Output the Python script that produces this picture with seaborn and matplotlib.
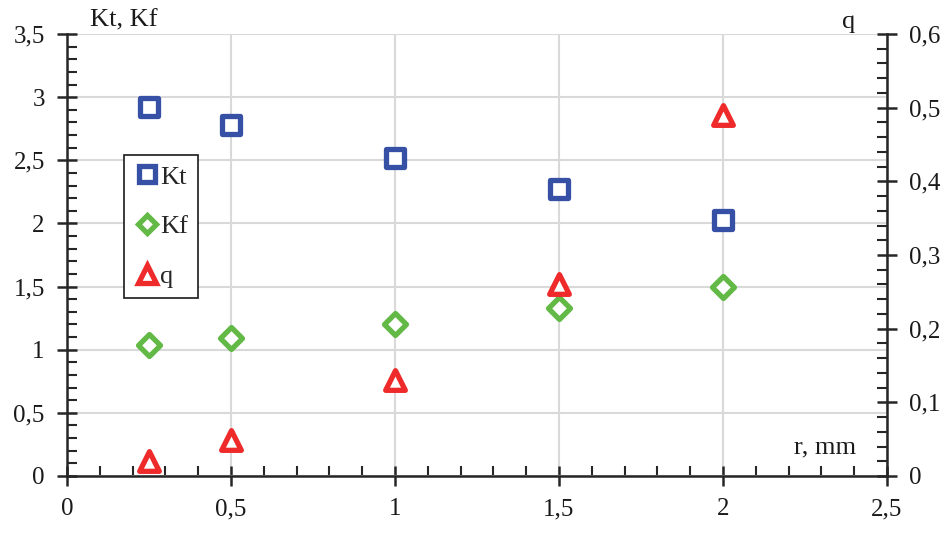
import matplotlib
matplotlib.use("Agg")
import matplotlib.pyplot as plt
from matplotlib.ticker import MultipleLocator, FuncFormatter
from matplotlib.lines import Line2D
import seaborn as sns

# data
r = [0.25, 0.5, 1.0, 1.5, 2.0]
kt = [2.92, 2.78, 2.52, 2.27, 2.03]
kf = [1.04, 1.09, 1.20, 1.33, 1.50]
q = [0.02, 0.049, 0.13, 0.26, 0.49]

blue = "#3650a5"
green = "#63b946"
red = "#ee2a2a"
grid_c = "#d9d9d9"
axis_c = "#262626"
txt_c = "#1a1a1a"

sns.set_theme(style="white")
plt.rcParams["font.family"] = ["Liberation Serif", "DejaVu Serif"]

fig = plt.figure(figsize=(9.46, 5.46), dpi=100)
ax = fig.add_axes([67 / 946, 1 - 476 / 546, (887 - 67) / 946, (476 - 34) / 546])
ax2 = ax.twinx()

lw = 3.8
sns.scatterplot(x=r, y=kt, ax=ax, marker="s", s=165, facecolor="white",
                edgecolor=blue, linewidth=lw, zorder=5, clip_on=False)
sns.scatterplot(x=r, y=kf, ax=ax, marker="D", s=125, facecolor="white",
                edgecolor=green, linewidth=lw, zorder=5, clip_on=False)
sns.scatterplot(x=r, y=q, ax=ax2, marker="^", s=200, facecolor="white",
                edgecolor=red, linewidth=lw, zorder=5, clip_on=False)

ax.set_xlim(0, 2.5)
ax.set_ylim(0, 3.5)
ax2.set_ylim(0, 0.6)

fmt = FuncFormatter(lambda v, p: f"{v:g}".replace(".", ","))
ax.xaxis.set_major_locator(MultipleLocator(0.5))
ax.xaxis.set_minor_locator(MultipleLocator(0.1))
ax.yaxis.set_major_locator(MultipleLocator(0.5))
ax.yaxis.set_minor_locator(MultipleLocator(0.1))
ax2.yaxis.set_major_locator(MultipleLocator(0.1))
ax2.yaxis.set_minor_locator(MultipleLocator(0.02))
ax.xaxis.set_major_formatter(fmt)
ax.yaxis.set_major_formatter(fmt)
ax2.yaxis.set_major_formatter(fmt)

ax.grid(True, which="major", color=grid_c, linewidth=1.5)
ax.set_axisbelow(True)

for a in (ax, ax2):
    for s in a.spines.values():
        s.set_visible(False)
ax.spines["left"].set_visible(True)
ax.spines["bottom"].set_visible(True)
ax2.spines["right"].set_visible(True)
for s in (ax.spines["left"], ax.spines["bottom"], ax2.spines["right"]):
    s.set_color(axis_c)
    s.set_linewidth(1.8)

ax.tick_params(axis="both", which="major", direction="inout", length=14, width=1.8,
               color=axis_c, labelsize=18, labelcolor=txt_c, pad=9)
ax.tick_params(axis="both", which="minor", direction="in", length=7, width=1.5,
               color=axis_c)
ax.tick_params(axis="x", which="both", bottom=True, top=False)
ax.tick_params(axis="y", which="both", left=True, right=False)
ax2.tick_params(axis="y", which="major", direction="inout", length=14, width=1.8,
                color=axis_c, labelsize=18, labelcolor=txt_c, pad=9, right=True)
ax2.tick_params(axis="y", which="minor", direction="in", length=7, width=1.5,
                color=axis_c, right=True)

ax.set_xlabel("")
ax.set_ylabel("")
ax2.set_ylabel("")

fig.text(90 / 946, 1 - 26 / 546, "Kt, Kf", fontsize=19, color=txt_c,
         ha="left", va="baseline")
fig.text(842 / 946, 1 - 28 / 546, "q", fontsize=19, color=txt_c,
         ha="left", va="baseline")
fig.text(794 / 946, 1 - 453 / 546, "r, mm", fontsize=19, color=txt_c,
         ha="left", va="baseline")

handles = [
    Line2D([], [], linestyle="none", marker="s", markersize=11.5, markerfacecolor="white",
           markeredgecolor=blue, markeredgewidth=lw),
    Line2D([], [], linestyle="none", marker="D", markersize=9, markerfacecolor="white",
           markeredgecolor=green, markeredgewidth=lw),
    Line2D([], [], linestyle="none", marker="^", markersize=12.5, markerfacecolor="white",
           markeredgecolor=red, markeredgewidth=lw),
]
leg = ax.legend(handles, ["Kt", "Kf", "q"], loc="upper left",
                bbox_to_anchor=(124 / 946, 1 - 155 / 546), bbox_transform=fig.transFigure,
                borderaxespad=0, fancybox=False, framealpha=1, edgecolor=txt_c,
                fontsize=19, labelspacing=1.0, handletextpad=0.0, handlelength=1.0,
                borderpad=0.38)
leg.get_frame().set_linewidth(1.2)
leg.set_zorder(10)

fig.savefig("out.png", dpi=100)
